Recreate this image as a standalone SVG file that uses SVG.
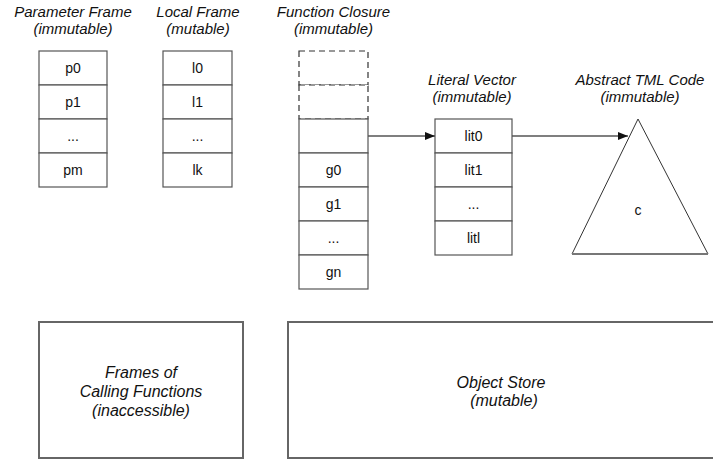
<svg xmlns="http://www.w3.org/2000/svg" width="713" height="464" viewBox="0 0 713 464">
<style>
text{font-family:"Liberation Sans",Arial,sans-serif;fill:#111;text-anchor:middle}
.t{font-size:15px;font-style:italic}
.c{font-size:14px}
.b{font-size:16px;font-style:italic}
.cell{fill:#fff;stroke:#555;stroke-width:1.2}
.dash{fill:#fff;stroke:#333;stroke-width:1.2;stroke-dasharray:6,4}
.big{fill:#fff;stroke:#666;stroke-width:2}
.con{stroke:#555;stroke-width:1.3;fill:none}
</style>
<defs>
<marker id="ah" markerWidth="10" markerHeight="8" refX="10" refY="4" orient="auto" markerUnits="userSpaceOnUse">
<path d="M0,0 L10,4 L0,8 z" fill="#111"/>
</marker>
</defs>
<rect width="713" height="464" fill="#fff"/>

<g id="parameter-frame">
<text class="t" x="73" y="17">Parameter Frame</text>
<text class="t" x="73" y="34">(immutable)</text>
<rect class="cell" x="39" y="51" width="68" height="34"/>
<rect class="cell" x="39" y="85" width="68" height="34"/>
<rect class="cell" x="39" y="119" width="68" height="34"/>
<rect class="cell" x="39" y="153" width="68" height="34"/>
<text class="c" x="73" y="73">p0</text>
<text class="c" x="73" y="107">p1</text>
<text class="c" x="73" y="141">...</text>
<text class="c" x="73" y="175">pm</text>
</g>

<g id="local-frame">
<text class="t" x="198" y="17">Local Frame</text>
<text class="t" x="198" y="34">(mutable)</text>
<rect class="cell" x="163" y="51" width="69" height="34"/>
<rect class="cell" x="163" y="85" width="69" height="34"/>
<rect class="cell" x="163" y="119" width="69" height="34"/>
<rect class="cell" x="163" y="153" width="69" height="34"/>
<text class="c" x="197.5" y="73">l0</text>
<text class="c" x="197.5" y="107">l1</text>
<text class="c" x="197.5" y="141">...</text>
<text class="c" x="197.5" y="175">lk</text>
</g>

<g id="function-closure">
<text class="t" x="333.5" y="17">Function Closure</text>
<text class="t" x="333.5" y="34">(immutable)</text>
<rect class="dash" x="299" y="51" width="69" height="34"/>
<rect class="dash" x="299" y="85" width="69" height="34"/>
<rect class="cell" x="299" y="119" width="69" height="34"/>
<rect class="cell" x="299" y="153" width="69" height="34"/>
<rect class="cell" x="299" y="187" width="69" height="34"/>
<rect class="cell" x="299" y="221" width="69" height="34"/>
<rect class="cell" x="299" y="255" width="69" height="34"/>
<text class="c" x="333.5" y="175">g0</text>
<text class="c" x="333.5" y="209">g1</text>
<text class="c" x="333.5" y="243">...</text>
<text class="c" x="333.5" y="277">gn</text>
</g>

<g id="literal-vector">
<text class="t" x="472" y="85">Literal Vector</text>
<text class="t" x="472" y="102">(immutable)</text>
<rect class="cell" x="435" y="119" width="77" height="34"/>
<rect class="cell" x="435" y="153" width="77" height="34"/>
<rect class="cell" x="435" y="187" width="77" height="34"/>
<rect class="cell" x="435" y="221" width="77" height="34"/>
<text class="c" x="473.5" y="141">lit0</text>
<text class="c" x="473.5" y="175">lit1</text>
<text class="c" x="473.5" y="209">...</text>
<text class="c" x="473.5" y="243">litl</text>
</g>

<g id="abstract-tml-code">
<text class="t" x="640" y="85">Abstract TML Code</text>
<text class="t" x="640" y="102">(immutable)</text>
<path d="M638,119 L708,254 L572,254 Z" fill="#fff" stroke="#333" stroke-width="1"/>
<line x1="572" y1="254" x2="708" y2="254" stroke="#777" stroke-width="2"/>
<text class="c" x="638" y="215">c</text>
</g>

<g id="frames-of-calling-functions">
<rect class="big" x="39" y="322" width="204" height="136"/>
<text class="b" x="141" y="378">Frames of</text>
<text class="b" x="141" y="397">Calling Functions</text>
<text class="b" x="141" y="416">(inaccessible)</text>
</g>

<g id="object-store">
<rect class="big" x="288" y="322" width="440" height="136"/>
<text class="b" x="501" y="388">Object Store</text>
<text class="b" x="504" y="406">(mutable)</text>
</g>

<g id="connectors">
<line class="con" x1="368" y1="136" x2="435" y2="136" marker-end="url(#ah)"/>
<line class="con" x1="512" y1="136" x2="628" y2="136" marker-end="url(#ah)"/>
</g>
</svg>
